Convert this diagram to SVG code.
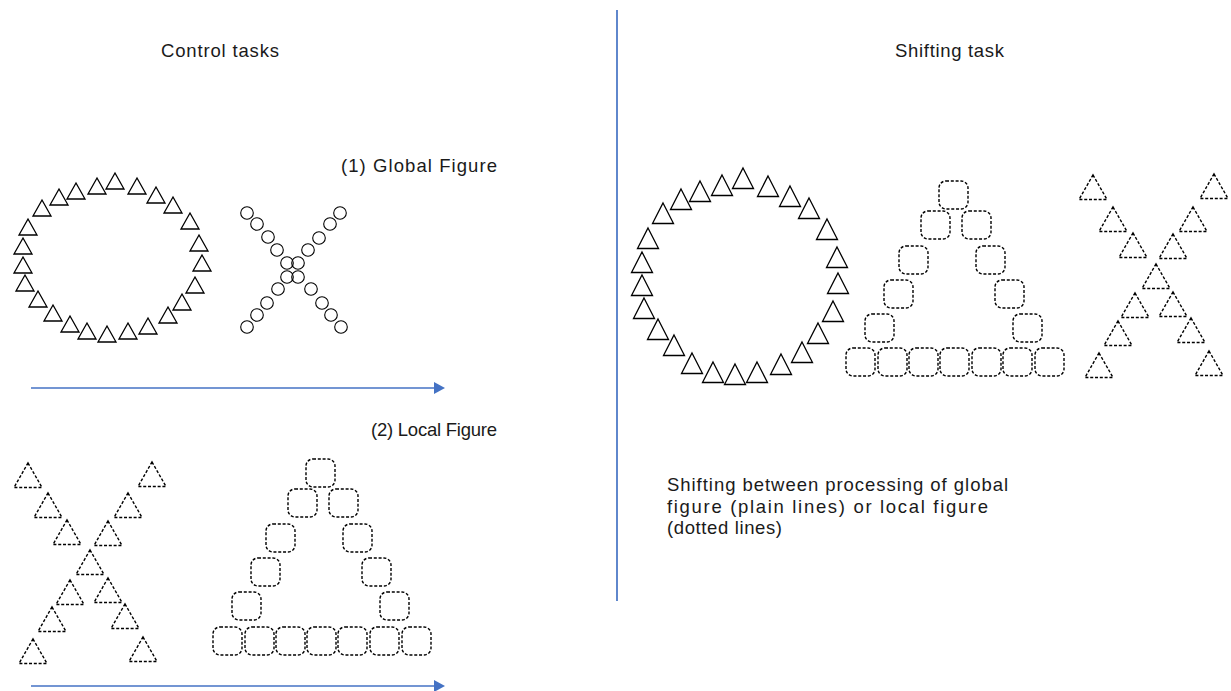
<svg xmlns="http://www.w3.org/2000/svg" xmlns:xlink="http://www.w3.org/1999/xlink" width="1231" height="691" viewBox="0 0 1231 691">
<style>
  .txt { font-family: "Liberation Sans", Arial, sans-serif; font-size: 18.5px; fill: #1a1a1a; }
  .solid { fill: #fff; stroke: #000; stroke-width: 1.3; stroke-linejoin: miter; }
  .circ { fill: none; stroke: #000; stroke-width: 1.1; }
  .dash { fill: none; stroke: #000; stroke-width: 1.4; stroke-dasharray: 3 1.8; }
  .blue { stroke: #4472C4; stroke-width: 1.7; fill: none; }
</style>
<defs>
  <polygon id="tA" points="0,0 9,16 -9,16"/>
  <polygon id="tB" points="0,0 10.5,20.5 -10.5,20.5"/>
  <polygon id="tD" points="0,0 14,24.5 -14,24.5"/>
  <rect id="sq" x="0" y="0" width="29" height="28" rx="7" ry="7"/>
  <marker id="ah" markerUnits="userSpaceOnUse" markerWidth="12" markerHeight="13" refX="0" refY="6" orient="auto">
    <path d="M0,0 L11,6 L0,12 z" fill="#4472C4"/>
  </marker>
</defs>
<rect width="1231" height="691" fill="#fff"/>

<g id="titles">
  <text class="txt" x="161" y="57" textLength="118">Control tasks</text>
  <text class="txt" x="895" y="57" textLength="109">Shifting task</text>
  <text class="txt" x="341" y="172" textLength="156">(1) Global Figure</text>
  <text class="txt" x="371" y="436" textLength="126">(2) Local Figure</text>
</g>

<g id="caption">
  <text class="txt" x="667" y="491" textLength="341">Shifting between processing of global</text>
  <text class="txt" x="667" y="512.5" textLength="321">figure (plain lines) or local figure</text>
  <text class="txt" x="667" y="534" textLength="115">(dotted lines)</text>
</g>

<g id="connectors">
  <line class="blue" x1="617" y1="10" x2="617" y2="601" stroke-width="1.3"/>
  <line class="blue" x1="31" y1="388" x2="434" y2="388" marker-end="url(#ah)"/>
  <line class="blue" x1="31" y1="686" x2="434" y2="686" marker-end="url(#ah)"/>
</g>

<g id="global-O-left" class="solid">
  <use href="#tA" x="115" y="173"/><use href="#tA" x="97" y="178"/><use href="#tA" x="76" y="183"/>
  <use href="#tA" x="59" y="189"/><use href="#tA" x="42" y="200"/><use href="#tA" x="28" y="219"/>
  <use href="#tA" x="23" y="238"/><use href="#tA" x="23" y="257"/><use href="#tA" x="25" y="275"/>
  <use href="#tA" x="38" y="291"/><use href="#tA" x="53" y="305"/><use href="#tA" x="70" y="316"/>
  <use href="#tA" x="87" y="323"/><use href="#tA" x="107" y="326"/><use href="#tA" x="128" y="323"/>
  <use href="#tA" x="148" y="318"/><use href="#tA" x="168" y="307"/><use href="#tA" x="182" y="294"/>
  <use href="#tA" x="195" y="277"/><use href="#tA" x="202" y="255"/><use href="#tA" x="199" y="235"/>
  <use href="#tA" x="190" y="213"/><use href="#tA" x="173" y="197"/><use href="#tA" x="156" y="187"/>
  <use href="#tA" x="137" y="178"/>
</g>

<g id="global-X-circles" class="circ">
  <circle cx="247" cy="213" r="6.3"/><circle cx="257" cy="224" r="6.3"/><circle cx="268" cy="237" r="6.3"/>
  <circle cx="277" cy="250" r="6.3"/>
  <circle cx="340" cy="213" r="6.3"/><circle cx="330" cy="224" r="6.3"/><circle cx="319" cy="238" r="6.3"/>
  <circle cx="308" cy="250" r="6.3"/>
  <circle cx="287" cy="263" r="6.3"/><circle cx="298" cy="263" r="6.3"/>
  <circle cx="287" cy="277" r="6.3"/><circle cx="298" cy="277" r="6.3"/>
  <circle cx="278" cy="289" r="6.3"/><circle cx="267" cy="303" r="6.3"/><circle cx="257" cy="315" r="6.3"/>
  <circle cx="247" cy="327" r="6.3"/>
  <circle cx="311" cy="289" r="6.3"/><circle cx="322" cy="303" r="6.3"/><circle cx="331" cy="315" r="6.3"/>
  <circle cx="341" cy="327" r="6.3"/>
</g>

<g id="local-X-left" class="dash">
  <use href="#tD" x="28" y="463"/><use href="#tD" x="152" y="462"/>
  <use href="#tD" x="48" y="493"/><use href="#tD" x="128" y="493"/>
  <use href="#tD" x="67" y="520"/><use href="#tD" x="108" y="521"/>
  <use href="#tD" x="90" y="550"/>
  <use href="#tD" x="70" y="580"/><use href="#tD" x="108" y="578"/>
  <use href="#tD" x="52" y="607"/><use href="#tD" x="125" y="604"/>
  <use href="#tD" x="33" y="639"/><use href="#tD" x="143" y="637"/>
</g>

<g id="local-A-left" class="dash">
  <use href="#sq" x="306" y="459"/>
  <use href="#sq" x="288" y="489"/><use href="#sq" x="329" y="489"/>
  <use href="#sq" x="266" y="524"/><use href="#sq" x="343" y="524"/>
  <use href="#sq" x="251" y="558"/><use href="#sq" x="362" y="558"/>
  <use href="#sq" x="232" y="592"/><use href="#sq" x="380" y="592"/>
  <use href="#sq" x="213" y="627"/><use href="#sq" x="245" y="627"/><use href="#sq" x="276" y="627"/>
  <use href="#sq" x="307" y="627"/><use href="#sq" x="338" y="627"/><use href="#sq" x="370" y="627"/>
  <use href="#sq" x="402" y="627"/>
</g>

<g id="global-O-right" class="solid">
  <use href="#tB" x="743" y="168"/><use href="#tB" x="722" y="175"/><use href="#tB" x="700" y="181"/>
  <use href="#tB" x="681" y="189"/><use href="#tB" x="663" y="203"/><use href="#tB" x="648" y="228"/>
  <use href="#tB" x="642" y="252"/><use href="#tB" x="642" y="275"/><use href="#tB" x="644" y="298"/>
  <use href="#tB" x="658" y="319"/><use href="#tB" x="674" y="335"/><use href="#tB" x="692" y="353"/>
  <use href="#tB" x="713" y="362"/><use href="#tB" x="735" y="364"/><use href="#tB" x="757" y="362"/>
  <use href="#tB" x="781" y="354"/><use href="#tB" x="802" y="342"/><use href="#tB" x="818" y="323"/>
  <use href="#tB" x="833" y="301"/><use href="#tB" x="838" y="273"/><use href="#tB" x="837" y="247"/>
  <use href="#tB" x="827" y="219"/><use href="#tB" x="809" y="198"/><use href="#tB" x="790" y="186"/>
  <use href="#tB" x="768" y="176"/>
</g>

<g id="local-A-right" class="dash">
  <use href="#sq" x="939" y="181"/>
  <use href="#sq" x="921" y="211"/><use href="#sq" x="962" y="211"/>
  <use href="#sq" x="899" y="246"/><use href="#sq" x="976" y="246"/>
  <use href="#sq" x="884" y="280"/><use href="#sq" x="995" y="280"/>
  <use href="#sq" x="865" y="314"/><use href="#sq" x="1013" y="314"/>
  <use href="#sq" x="846" y="348"/><use href="#sq" x="878" y="348"/><use href="#sq" x="909" y="348"/>
  <use href="#sq" x="940" y="348"/><use href="#sq" x="972" y="348"/><use href="#sq" x="1003" y="348"/>
  <use href="#sq" x="1035" y="348"/>
</g>

<g id="local-X-right" class="dash">
  <use href="#tD" x="1093" y="175"/><use href="#tD" x="1214" y="174"/>
  <use href="#tD" x="1113" y="207"/><use href="#tD" x="1193" y="207"/>
  <use href="#tD" x="1133" y="233"/><use href="#tD" x="1173" y="234"/>
  <use href="#tD" x="1156" y="264"/>
  <use href="#tD" x="1135" y="293"/><use href="#tD" x="1173" y="292"/>
  <use href="#tD" x="1118" y="321"/><use href="#tD" x="1191" y="318"/>
  <use href="#tD" x="1099" y="353"/><use href="#tD" x="1209" y="351"/>
</g>
</svg>
